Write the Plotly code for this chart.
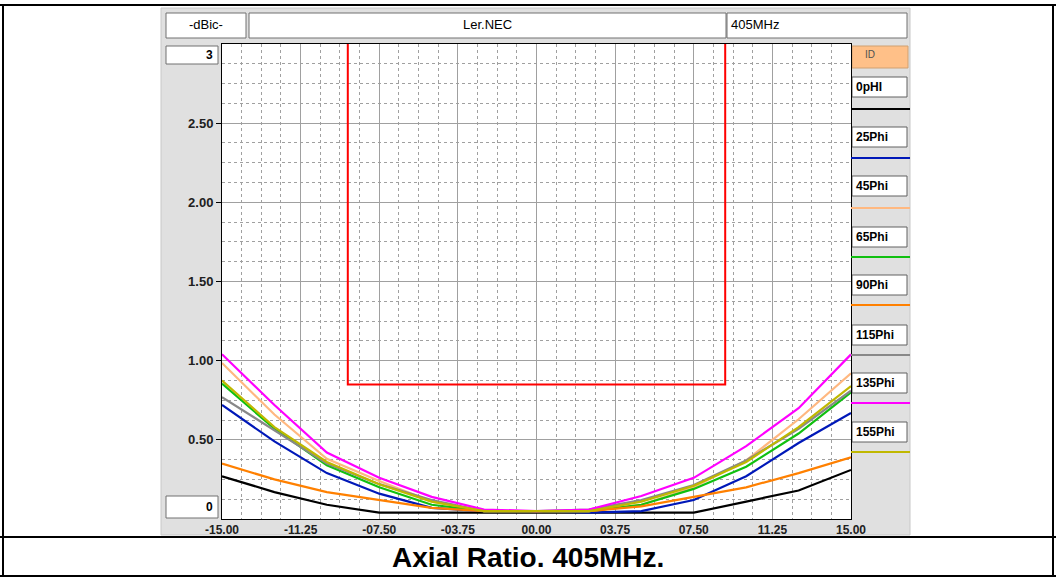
import plotly.graph_objects as go

W, H = 1056, 577

# ---------------- data ----------------
theta = [-15, -12.5, -10, -7.5, -5, -2.5, 0, 2.5, 5, 7.5, 10, 12.5, 15]

names = ["0pHI", "25Phi", "45Phi", "65Phi", "90Phi", "115Phi", "135Phi", "155Phi"]
colors = ["#000000", "#0018B8", "#FFB880", "#10C010", "#FF8000", "#888888", "#FF00FF", "#C0B800"]

ar_0 = [0.27, 0.17, 0.09, 0.04, 0.04, 0.04, 0.04, 0.04, 0.04, 0.04, 0.11, 0.18, 0.31]
ar_25 = [0.72, 0.49, 0.29, 0.16, 0.07, 0.05, 0.05, 0.04, 0.05, 0.12, 0.27, 0.48, 0.67]
ar_45 = [0.985, 0.66, 0.38, 0.24, 0.11, 0.05, 0.05, 0.05, 0.09, 0.20, 0.37, 0.63, 0.92]
ar_65 = [0.855, 0.57, 0.34, 0.20, 0.09, 0.05, 0.05, 0.05, 0.09, 0.19, 0.33, 0.54, 0.80]
ar_90 = [0.35, 0.25, 0.17, 0.12, 0.07, 0.05, 0.05, 0.05, 0.08, 0.14, 0.20, 0.29, 0.39]
ar_115 = [0.77, 0.56, 0.35, 0.22, 0.12, 0.05, 0.05, 0.06, 0.12, 0.215, 0.37, 0.57, 0.81]
ar_135 = [1.04, 0.72, 0.42, 0.26, 0.14, 0.06, 0.05, 0.06, 0.145, 0.26, 0.46, 0.70, 1.04]
ar_155 = [0.875, 0.58, 0.36, 0.22, 0.11, 0.05, 0.05, 0.05, 0.11, 0.21, 0.36, 0.58, 0.84]
series = [ar_0, ar_25, ar_45, ar_65, ar_90, ar_115, ar_135, ar_155]

limit_x = [-9, 9]
limit_y = 0.85
y_top = 3

x_tickvals = [-15, -11.25, -7.5, -3.75, 0, 3.75, 7.5, 11.25, 15]
x_ticktext = ["-15.00", "-11.25", "-07.50", "-03.75", "00.00", "03.75", "07.50", "11.25", "15.00"]
y_tickvals = [0.5, 1.0, 1.5, 2.0, 2.5]
y_ticktext = ["0.50", "1.00", "1.50", "2.00", "2.50"]

# ---------------- layout helpers ----------------
PL, PR, PT, PB = 222, 851, 44, 519


def px(x):
    return x / W


def py(y):
    return 1 - y / H


shapes = []
annotations = []


def rect(x0, y0, x1, y1, fill, line="#000000", lw=1, layer="below"):
    shapes.append(dict(type="rect", xref="paper", yref="paper",
                       x0=px(x0), x1=px(x1), y0=py(y1), y1=py(y0),
                       fillcolor=fill, line=dict(color=line, width=lw), layer=layer))


def hline(x0, x1, y, color, lw=1, layer="above"):
    shapes.append(dict(type="line", xref="paper", yref="paper",
                       x0=px(x0), x1=px(x1), y0=py(y), y1=py(y),
                       line=dict(color=color, width=lw), layer=layer))


def vline(x, y0, y1, color, lw=1, layer="above"):
    shapes.append(dict(type="line", xref="paper", yref="paper",
                       x0=px(x), x1=px(x), y0=py(y0), y1=py(y1),
                       line=dict(color=color, width=lw), layer=layer))


def text(x, y, s, size=12, bold=False, anchor="center", color="#000000", family="Liberation Sans"):
    annotations.append(dict(xref="paper", yref="paper", x=px(x), y=py(y), text=s,
                            showarrow=False, xanchor=anchor, yanchor="middle",
                            font=dict(size=size, color=color, family=family,
                                      weight="bold" if bold else "normal")))


# outer frame
hline(0, W, 5, "#000000", 2)
vline(3, 5, H, "#000000", 2)
vline(1053, 5, H, "#000000", 2)
hline(0, W, 537, "#000000", 2)
hline(0, W, 576, "#000000", 2)

# gray application panel
rect(161, 8, 910, 535, "#E0E0E0", line="#C8C8C8")
# white plot area (on top of the panel)
rect(PL, PT, PR, PB, "#FFFFFF", line="#FFFFFF", lw=0)

# header boxes
rect(166, 13, 246, 38, "#FFFFFF", line="#707070")
rect(249, 13, 726, 38, "#FFFFFF", line="#707070")
rect(727, 13, 907, 38, "#FFFFFF", line="#707070")
text(206, 25, "-dBic-", 13)
text(487, 25, "Ler.NEC", 13)
text(729, 25, "405MHz", 13, anchor="left")

# y extreme boxes
rect(166, 46, 218, 64, "#FFFFFF", line="#707070")
text(215, 55, "3", 12, bold=True, anchor="right")
rect(166, 496, 218, 518, "#FFFFFF", line="#707070")
text(215, 507, "0", 12, bold=True, anchor="right")

# legend panel
rect(852, 46, 908, 68, "#FFC088", line="#D0A070")
text(870, 55, "ID", 10, color="#505050", anchor="center")
box_tops = [77, 127, 176, 227, 275, 325, 373, 422]
line_ys = [109, 158, 208, 257, 305, 355, 403, 452]
for nm, col, bt, ly in zip(names, colors, box_tops, line_ys):
    rect(852, bt, 907, bt + 20, "#FFFFFF", line="#606060")
    text(854, bt + 10, nm, 12, bold=True, anchor="left")
    hline(851, 910, ly, col, 2)

# caption
text(528, 557, "Axial Ratio. 405MHz.", 28, bold=True)

# ---------------- traces ----------------
fig = go.Figure()

fig.add_trace(go.Scatter(x=[limit_x[0], limit_x[0], limit_x[1], limit_x[1]],
                         y=[y_top, limit_y, limit_y, y_top], mode="lines",
                         line=dict(color="#FF0000", width=2), showlegend=False,
                         hoverinfo="skip"))

for nm, col, ys in zip(names, colors, series):
    fig.add_trace(go.Scatter(x=theta, y=ys, mode="lines", name=nm,
                             line=dict(color=col, width=2.2), showlegend=False))

grid_col = "#A0A0A0"
fig.update_layout(
    template="none",
    width=W, height=H, autosize=False,
    margin=dict(l=0, r=0, t=0, b=0, pad=0),
    paper_bgcolor="#FFFFFF", plot_bgcolor="#FFFFFF",
    shapes=shapes, annotations=annotations, showlegend=False,
    xaxis=dict(domain=[px(PL), px(PR)], range=[-15, 15], automargin=False,
               tickvals=x_tickvals, ticktext=x_ticktext,
               showgrid=True, gridcolor=grid_col, gridwidth=1,
               minor=dict(dtick=0.9375, tick0=-15, showgrid=True, gridcolor=grid_col,
                          griddash="3px,3px", gridwidth=1),
               showline=True, linecolor="#000000", linewidth=1, mirror=True,
               ticks="", ticklen=0,
               tickfont=dict(family="Liberation Sans", size=12, color="#202020", weight="bold"),
               zeroline=False, fixedrange=True),
    yaxis=dict(domain=[py(PB), py(PT)], range=[0, 3], automargin=False,
               tickvals=y_tickvals, ticktext=y_ticktext,
               showgrid=True, gridcolor=grid_col, gridwidth=1,
               minor=dict(dtick=0.125, tick0=0, showgrid=True, gridcolor=grid_col,
                          griddash="3px,3px", gridwidth=1),
               showline=True, linecolor="#000000", linewidth=1, mirror=True,
               ticks="outside", ticklen=5, tickcolor="#000000",
               tickfont=dict(family="Liberation Sans", size=13, color="#202020", weight="bold"),
               zeroline=False, fixedrange=True),
)

fig.write_html("out.html")
